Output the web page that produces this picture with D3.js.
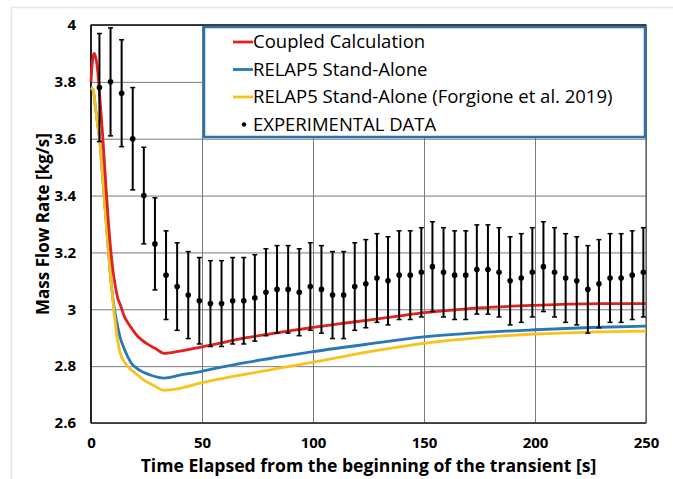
<!DOCTYPE html>
<html>
<head>
<meta charset="utf-8">
<script src="https://cdn.jsdelivr.net/npm/d3@7"></script>
<style>
  html, body { margin: 0; padding: 0; background: #fff; }
  svg { display: block; }
  text { font-family: "Open Sans", sans-serif; fill: #000; }
</style>
</head>
<body>
<div id="chart"></div>
<script>
// Coupled Calculation (red)
let coupledT = [0, 0.5, 1, 1.5, 2, 3, 4, 5, 6, 7, 8, 9, 10, 11, 12, 13, 15, 17, 19, 21, 25, 29, 33,
  40, 50, 60, 70, 80, 90, 100, 110, 125, 140, 150, 165, 175, 190, 200, 215, 230, 250];
let coupledV = [3.80, 3.86, 3.89, 3.90, 3.89, 3.84, 3.74, 3.64, 3.52, 3.40, 3.29, 3.20, 3.13, 3.08, 3.04, 3.02,
  2.975, 2.948, 2.925, 2.905, 2.880, 2.862, 2.845, 2.853, 2.868, 2.884, 2.900, 2.913, 2.925, 2.936,
  2.947, 2.962, 2.978, 2.988, 2.999, 3.005, 3.011, 3.014, 3.018, 3.020, 3.020];

// RELAP5 Stand-Alone (blue)
let relapT = [0, 1, 2, 3, 4, 5, 6, 7, 8, 9, 10, 11, 12, 13, 15, 18, 22, 27, 33, 40, 50, 60, 70, 80, 90,
  100, 125, 150, 175, 200, 225, 250];
let relapV = [3.78, 3.77, 3.71, 3.65, 3.59, 3.49, 3.39, 3.29, 3.19, 3.10, 3.03, 2.98, 2.94, 2.905,
  2.86, 2.812, 2.785, 2.768, 2.758, 2.768, 2.782, 2.798, 2.813, 2.826, 2.839, 2.851, 2.878, 2.903,
  2.918, 2.928, 2.936, 2.941];

// RELAP5 Stand-Alone (Forgione et al. 2019) (yellow)
let forgioneT = [0, 1, 2, 3, 4, 5, 6, 7, 8, 9, 10, 11, 12, 13, 15, 17, 20, 24, 28, 33, 40, 50, 60, 70,
  80, 90, 100, 125, 150, 175, 200, 225, 250];
let forgioneV = [3.78, 3.77, 3.71, 3.65, 3.59, 3.49, 3.39, 3.29, 3.19, 3.10, 3.02, 2.95, 2.89, 2.85,
  2.815, 2.795, 2.775, 2.750, 2.733, 2.715, 2.722, 2.742, 2.758, 2.772, 2.786, 2.800, 2.814, 2.850,
  2.880, 2.900, 2.913, 2.920, 2.923];

// Experimental data with error bars
let expT = [3.8, 8.8, 13.8, 18.8, 23.8, 28.8, 33.8, 38.8, 43.8, 48.8, 53.8, 58.8, 63.8, 68.8, 73.8,
  78.8, 83.8, 88.8, 93.8, 98.8, 103.8, 108.8, 113.8, 118.8, 123.8, 128.8, 133.8, 138.8, 143.8, 148.8,
  153.8, 158.8, 163.8, 168.8, 173.8, 178.8, 183.8, 188.8, 193.8, 198.8, 203.8, 208.8, 213.8, 218.8,
  223.8, 228.8, 233.8, 238.8, 243.8, 248.8];
let expV = [3.78, 3.80, 3.76, 3.60, 3.40, 3.23, 3.12, 3.08, 3.05, 3.03, 3.02, 3.02, 3.03, 3.03, 3.04,
  3.06, 3.07, 3.07, 3.06, 3.08, 3.07, 3.05, 3.05, 3.08, 3.09, 3.11, 3.10, 3.12, 3.12, 3.13,
  3.15, 3.13, 3.12, 3.12, 3.14, 3.14, 3.13, 3.10, 3.11, 3.13, 3.15, 3.13, 3.11, 3.10, 3.07,
  3.09, 3.11, 3.11, 3.12, 3.13];
let expErr = [0.19, 0.19, 0.188, 0.18, 0.17, 0.162, 0.156, 0.154, 0.153, 0.152, 0.151, 0.151, 0.152,
  0.152, 0.152, 0.153, 0.154, 0.154, 0.153, 0.154, 0.154, 0.153, 0.153, 0.154, 0.155, 0.156, 0.155,
  0.156, 0.156, 0.157, 0.158, 0.157, 0.156, 0.156, 0.157, 0.157, 0.157, 0.155, 0.156, 0.157, 0.158,
  0.157, 0.156, 0.155, 0.154, 0.155, 0.156, 0.156, 0.156, 0.157];

let xTicks = [0, 50, 100, 150, 200, 250];
let yTicks = [2.6, 2.8, 3, 3.2, 3.4, 3.6, 3.8, 4];

let legendLabels = ['Coupled Calculation', 'RELAP5 Stand-Alone',
  'RELAP5 Stand-Alone (Forgione et al. 2019)', 'EXPERIMENTAL DATA'];
let colors = ['#e3211c', '#2878b8', '#f7c31a'];

let width = 673, height = 479;
let margin = { top: 25, right: 27, bottom: 56, left: 91 };
let plotW = width - margin.left - margin.right;
let plotH = height - margin.top - margin.bottom;

let svg = d3.select('#chart').append('svg')
  .attr('width', width)
  .attr('height', height);

// faint outer frame
svg.append('line').attr('x1', 11.5).attr('x2', 11.5).attr('y1', 7).attr('y2', height)
  .attr('stroke', '#e6e6e6').attr('stroke-width', 1.5);
svg.append('line').attr('x1', 11).attr('x2', width).attr('y1', 7.5).attr('y2', 7.5)
  .attr('stroke', '#e6e6e6').attr('stroke-width', 1.5);

let x = d3.scaleLinear().domain([0, 250]).range([0, plotW]);
let y = d3.scaleLinear().domain([2.6, 4]).range([plotH, 0]);

let g = svg.append('g').attr('transform', `translate(${margin.left},${margin.top})`);

// grid
g.append('g')
  .call(d3.axisBottom(x).tickValues(xTicks).tickSize(-plotH).tickFormat(''))
  .attr('transform', `translate(0,${plotH})`)
  .call(a => a.select('.domain').remove())
  .call(a => a.selectAll('line').attr('stroke', '#7a7a7a').attr('stroke-width', 1));
g.append('g')
  .call(d3.axisLeft(y).tickValues(yTicks).tickSize(-plotW).tickFormat(''))
  .call(a => a.select('.domain').remove())
  .call(a => a.selectAll('line').attr('stroke', '#7a7a7a').attr('stroke-width', 1));

// plot frame
g.append('rect').attr('width', plotW).attr('height', plotH)
  .attr('fill', 'none').attr('stroke', '#555').attr('stroke-width', 1.2);
g.append('line').attr('x1', 0).attr('x2', plotW).attr('y1', 0).attr('y2', 0)
  .attr('stroke', '#222').attr('stroke-width', 1.5);
g.append('line').attr('x1', 0).attr('x2', 0).attr('y1', 0).attr('y2', plotH)
  .attr('stroke', '#222').attr('stroke-width', 2);
g.append('line').attr('x1', 0).attr('x2', plotW).attr('y1', plotH).attr('y2', plotH)
  .attr('stroke', '#333').attr('stroke-width', 1.5);

// tick labels
g.append('g')
  .attr('transform', `translate(0,${plotH})`)
  .call(d3.axisBottom(x).tickValues(xTicks).tickSize(0).tickPadding(14).tickFormat(d3.format('d')))
  .call(a => a.select('.domain').remove())
  .call(a => a.selectAll('text')
    .style('font-family', '"Open Sans", sans-serif')
    .style('font-size', '15px').style('font-weight', 'bold').attr('fill', '#000'));
g.append('g')
  .call(d3.axisLeft(y).tickValues(yTicks).tickSize(0).tickPadding(15).tickFormat(d => String(+d.toFixed(1))))
  .call(a => a.select('.domain').remove())
  .call(a => a.selectAll('text')
    .style('font-family', '"Open Sans", sans-serif')
    .style('font-size', '15px').style('font-weight', 'bold').attr('fill', '#000'));

// lines
let line = d3.line()
  .x(d => x(d[0]))
  .y(d => y(d[1]))
  .curve(d3.curveMonotoneX);

let series = [
  { t: relapT, v: relapV, color: colors[1] },
  { t: forgioneT, v: forgioneV, color: colors[2] },
  { t: coupledT, v: coupledV, color: colors[0] }
];
series.forEach(s => {
  g.append('path')
    .datum(s.t.map((t, i) => [t, s.v[i]]))
    .attr('d', line)
    .attr('fill', 'none')
    .attr('stroke', s.color)
    .attr('stroke-width', 2.8)
    .attr('stroke-linejoin', 'round');
});

// experimental points with error bars
let exp = expT.map((t, i) => ({ t, v: expV[i], e: expErr[i] }));
let pts = g.append('g').selectAll('g').data(exp).enter().append('g');
pts.append('line')
  .attr('x1', d => x(d.t)).attr('x2', d => x(d.t))
  .attr('y1', d => y(Math.min(4, d.v + d.e))).attr('y2', d => y(d.v - d.e))
  .attr('stroke', '#000').attr('stroke-width', 2);
pts.append('line')
  .attr('x1', d => x(d.t) - 2.5).attr('x2', d => x(d.t) + 2.5)
  .attr('y1', d => y(d.v + d.e)).attr('y2', d => y(d.v + d.e))
  .attr('stroke', '#000').attr('stroke-width', 1.5);
pts.append('line')
  .attr('x1', d => x(d.t) - 2.5).attr('x2', d => x(d.t) + 2.5)
  .attr('y1', d => y(d.v - d.e)).attr('y2', d => y(d.v - d.e))
  .attr('stroke', '#000').attr('stroke-width', 1.5);
pts.append('circle')
  .attr('cx', d => x(d.t)).attr('cy', d => y(d.v)).attr('r', 2.8)
  .attr('fill', '#000');

// legend
let lg = svg.append('g').attr('transform', 'translate(204,27)');
lg.append('rect').attr('width', 441).attr('height', 110)
  .attr('fill', '#fff').attr('stroke', '#2a72b0').attr('stroke-width', 2.5);
legendLabels.forEach((label, i) => {
  let row = lg.append('g').attr('transform', `translate(0,${15 + i * 27.5})`);
  if (i < 3) {
    row.append('line').attr('x1', 29).attr('x2', 49).attr('y1', 0).attr('y2', 0)
      .attr('stroke', colors[i]).attr('stroke-width', 2.8);
  } else {
    row.append('circle').attr('cx', 40).attr('cy', 0).attr('r', 2.2).attr('fill', '#000');
  }
  row.append('text').attr('x', 49).attr('y', 0).attr('dy', '0.35em')
    .style('font-size', '18.5px')
    .text(label);
});

// axis titles
svg.append('text')
  .attr('x', margin.left + plotW / 2).attr('y', 472)
  .attr('text-anchor', 'middle')
  .style('font-size', '17.6px').style('font-weight', 'bold')
  .text('Time Elapsed from the beginning of the transient [s]');
svg.append('text')
  .attr('transform', `translate(49,${margin.top + plotH / 2}) rotate(-90)`)
  .attr('text-anchor', 'middle')
  .style('font-size', '17px').style('font-weight', 'bold')
  .text('Mass Flow Rate [kg/s]');
</script>
</body>
</html>
